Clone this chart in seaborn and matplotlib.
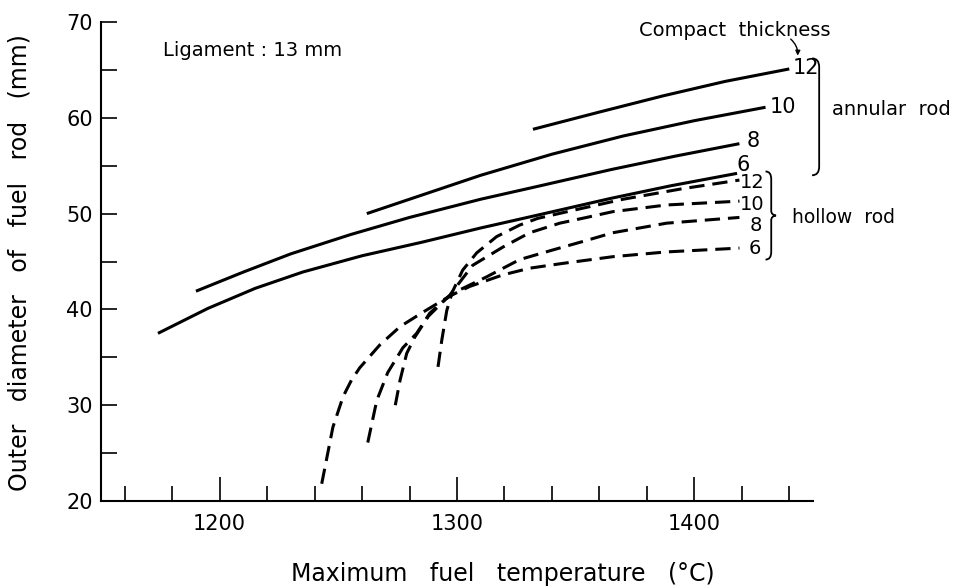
import numpy as np
import pandas as pd
import seaborn as sns
import matplotlib.pyplot as plt
from matplotlib.path import Path
from matplotlib.patches import PathPatch
from matplotlib.ticker import MultipleLocator

# ---- data: outer diameter (mm) vs. maximum fuel temperature (deg C) ----
# annular rod, compact thickness 12 / 10 / 8 / 6 mm (solid lines)
ann12_t = [1332, 1360, 1387, 1413, 1440]
ann12_d = [58.8, 60.6, 62.3, 63.8, 65.1]
ann10_t = [1262, 1280, 1310, 1340, 1370, 1400, 1430]
ann10_d = [50.0, 51.5, 54.0, 56.2, 58.1, 59.7, 61.1]
ann8_t = [1190, 1210, 1230, 1255, 1280, 1310, 1335, 1365, 1392, 1419]
ann8_d = [41.9, 43.9, 45.8, 47.8, 49.6, 51.5, 52.9, 54.6, 56.0, 57.3]
ann6_t = [1174, 1195, 1215, 1235, 1260, 1285, 1310, 1335, 1365, 1390, 1418]
ann6_d = [37.5, 40.1, 42.2, 43.9, 45.6, 47.0, 48.5, 49.9, 51.6, 52.9, 54.2]

# hollow rod, compact thickness 12 / 10 / 8 / 6 mm (dashed lines)
hol12_t = [1292, 1293.6, 1295.7, 1298, 1302.4, 1308.3, 1316.7, 1326.4, 1334,
           1350, 1370, 1395, 1419]
hol12_d = [34.0, 36.8, 39.9, 41.8, 44.1, 45.9, 47.6, 48.8, 49.5,
           50.4, 51.5, 52.6, 53.5]
hol10_t = [1274, 1276, 1278.8, 1282.2, 1288, 1297, 1306.6, 1319.3, 1330.6,
           1343.3, 1354.6, 1365.6, 1388.3, 1419]
hol10_d = [30.0, 32.6, 35.4, 37.1, 39.3, 41.5, 44.6, 46.5, 48.0,
           49.0, 49.6, 50.2, 50.9, 51.3]
hol8_t = [1262.4, 1266.2, 1270.8, 1277.2, 1283, 1288.5, 1294.8, 1300, 1312.5,
          1326.4, 1340.3, 1354.6, 1365.6, 1388.3, 1419]
hol8_d = [26.1, 30.5, 33.4, 36.0, 37.5, 39.6, 41.0, 41.9, 43.4,
          45.2, 46.2, 47.2, 48.0, 49.0, 49.6]
hol6_t = [1243, 1247.7, 1252, 1255.5, 1259, 1267.5, 1276, 1285.6, 1297, 1305.4,
          1319.3, 1330.6, 1344.5, 1365.6, 1388.3, 1419]
hol6_d = [21.8, 27.7, 30.9, 32.6, 33.9, 36.3, 38.2, 39.7, 41.4, 42.4,
          43.6, 44.3, 44.8, 45.5, 46.0, 46.4]

thickness = ["12", "10", "8", "6"]

rows = []
for kind, series in [
    ("annular", [(ann12_t, ann12_d), (ann10_t, ann10_d), (ann8_t, ann8_d), (ann6_t, ann6_d)]),
    ("hollow", [(hol12_t, hol12_d), (hol10_t, hol10_d), (hol8_t, hol8_d), (hol6_t, hol6_d)]),
]:
    for th, (ts, ds) in zip(thickness, series):
        for t, d in zip(ts, ds):
            rows.append({"temp": t, "diam": d, "kind": kind, "curve": f"{kind}-{th}"})
df = pd.DataFrame(rows)

# ---- figure ----
sns.set_theme(style="ticks")
plt.rcParams["font.family"] = ["DejaVu Sans"]
plt.rcParams["axes.linewidth"] = 1.5
plt.rcParams["text.color"] = "black"
plt.rcParams["axes.labelcolor"] = "black"
plt.rcParams["axes.edgecolor"] = "black"
plt.rcParams["xtick.color"] = "black"
plt.rcParams["ytick.color"] = "black"

fig = plt.figure(figsize=(9.6, 5.88), dpi=100)
ax = fig.add_axes([101 / 960, 87 / 588, 712 / 960, 479 / 588])

sns.lineplot(data=df, x="temp", y="diam", units="curve", style="kind",
             estimator=None, sort=False, color="black", linewidth=2.2,
             dashes={"annular": "", "hollow": (5, 2.6)}, legend=False, ax=ax)
for ln in ax.get_lines():
    ln.set_solid_capstyle("butt")
    ln.set_dash_capstyle("butt")
    ln.set_solid_joinstyle("round")

ax.set_xlim(1150, 1450)
ax.set_ylim(20, 70)
sns.despine(ax=ax)

ax.xaxis.set_major_locator(MultipleLocator(100))
ax.xaxis.set_minor_locator(MultipleLocator(20))
ax.yaxis.set_major_locator(MultipleLocator(10))
ax.yaxis.set_minor_locator(MultipleLocator(5))
ax.set_xticks([1200, 1300, 1400])
ax.tick_params(axis="x", which="major", direction="in", length=17, width=1.2,
               labelsize=15, pad=9, colors="black")
ax.tick_params(axis="x", which="minor", direction="in", length=11, width=1.2,
               colors="black")
ax.tick_params(axis="y", which="both", direction="in", length=11.5, width=1.2,
               labelsize=15, pad=6, colors="black")

ax.set_xlabel("Maximum   fuel   temperature   (°C)", fontsize=17, color="black")
ax.xaxis.set_label_coords(0.565, -0.128)
ax.set_ylabel("Outer   diameter   of   fuel   rod   (mm)", fontsize=17, color="black")
ax.yaxis.set_label_coords(-0.097, 0.497)

# ---- annotations ----
ax.text(1176, 67.0, "Ligament : 13 mm", fontsize=14, va="center", ha="left",
        color="black")
ax.text(1417, 69.1, "Compact  thickness", fontsize=14, va="center", ha="center",
        color="black", clip_on=False)
ax.annotate("", xy=(1443.4, 66.2), xytext=(1439.7, 68.4),
            arrowprops=dict(arrowstyle="-|>", color="black", lw=1,
                            mutation_scale=7,
                            connectionstyle="arc3,rad=-0.3"),
            annotation_clip=False)

ann_lab = [(1441.4, 65.2), (1431.7, 61.1), (1422.0, 57.6), (1417.8, 55.1)]
hol_lab = [(1419.0, 53.2), (1419.0, 50.9), (1423.5, 48.8), (1423.0, 46.4)]
for th, (x, y) in zip(thickness, ann_lab):
    ax.text(x, y, th, fontsize=15, va="center", ha="left", color="black",
            clip_on=False)
for th, (x, y) in zip(thickness, hol_lab):
    ax.text(x, y, th, fontsize=14, va="center", ha="left", color="black",
            clip_on=False)

ax.text(1458.2, 60.9, "annular  rod", fontsize=14, va="center", ha="left",
        color="black", clip_on=False)
ax.text(1441.0, 49.6, "hollow  rod", fontsize=13.5, va="center", ha="left",
        color="black", clip_on=False)


def bracket(ax, x, top, bottom, w, h, tip=0.0):
    """Right-facing bracket; with tip>0 it becomes a curly brace."""
    xr = x + w
    mid = (top + bottom) / 2
    verts = [(x, top), (xr, top), (xr, top - h)]
    codes = [Path.MOVETO, Path.CURVE3, Path.CURVE3]
    if tip:
        verts += [(xr, mid + h * 0.6), (xr, mid + h * 0.1), (xr + tip, mid),
                  (xr, mid - h * 0.1), (xr, mid - h * 0.6)]
        codes += [Path.LINETO, Path.CURVE3, Path.CURVE3,
                  Path.CURVE3, Path.CURVE3]
    verts += [(xr, bottom + h), (xr, bottom), (x, bottom)]
    codes += [Path.LINETO, Path.CURVE3, Path.CURVE3]
    patch = PathPatch(Path(verts, codes), fill=False, lw=1.3,
                      edgecolor="black", clip_on=False)
    ax.add_patch(patch)


bracket(ax, 1449.6, 66.2, 54.0, 3.0, 0.9)
bracket(ax, 1430.0, 54.4, 45.2, 2.4, 0.8, tip=2.0)

fig.savefig("out.png", dpi=100)
